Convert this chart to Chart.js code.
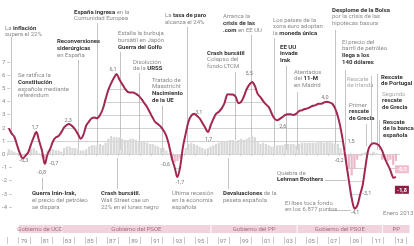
<!DOCTYPE html>
<html>
<head>
<meta charset="utf-8">
<script src="https://cdn.jsdelivr.net/npm/chart.js@4.4.1/dist/chart.umd.min.js"></script>
<style>
  html, body { margin: 0; padding: 0; background: #fff; }
  #wrap { width: 414px; height: 246px; position: relative; }
</style>
</head>
<body>
<div id="wrap"><canvas id="pib"></canvas></div>
<script>
// PIB de España, % de variación. Trimestral desde 1978 T1 hasta 2013 T1
const firstYear = 1978;

// variación interanual (línea)
const yoy = [
  2.0, 1.6, 1.35, 0.7, 0.1, -0.3, -0.1, 0.15, 0.75, 1.3,
  1.7, 1.0, 0.3, -0.7, 0.0, 0.45, 1.0, 1.3, 1.4, 1.7,
  2.05, 2.25, 2.3, 2.15, 1.9, 1.55, 1.2, 1.5, 2.2, 2.5,
  2.75, 2.8, 2.75, 3.0, 3.45, 4.2, 4.9, 5.4, 5.8, 6.1,
  5.7, 5.35, 5.0, 4.75, 4.7, 4.7, 4.6, 4.45, 4.2, 3.9,
  3.6, 3.2, 2.8, 2.45, 2.3, 2.1, 1.8, 1.4, 0.65, -0.3,
  -1.0, -1.7, -0.9, 0.6, 1.6, 2.5, 2.95, 3.1, 2.95, 2.75,
  2.4, 2.05, 1.7, 2.2, 2.7, 3.1, 3.25, 3.5, 3.9, 4.55,
  4.55, 4.55, 4.4, 3.9, 4.0, 4.4, 4.95, 5.3, 5.5, 5.2,
  4.6, 4.35, 4.05, 3.8, 3.6, 3.15, 2.75, 2.6, 2.7, 2.85,
  3.0, 3.05, 3.05, 3.0, 3.1, 3.3, 3.35, 3.45, 3.5, 3.6,
  3.7, 3.75, 3.85, 3.85, 3.95, 4.0, 3.95, 3.85, 3.5, 2.9,
  2.0, 0.8, -0.6, -2.0, -3.3, -4.1, -3.9, -3.1, -2.3, -0.9,
  0.35, 0.75, 0.85, 0.8, 0.65, 0.3, -0.3, -0.75, -1.2, -1.75, -1.7
];

// variación trimestral (barras)
const qoq = [
  0.4, 0.3, 0.2, 0.1,   0.0, -0.1, 0.1, 0.2,   0.4, 0.5, 0.3, 0.1,
  -0.2, -0.3, 0.3, 0.4, 0.4, 0.3, 0.3, 0.2,    0.5, 0.6, 0.6, 0.5,
  0.5, 0.4, 0.3, 0.3,   0.4, 0.6, 0.7, 0.7,    0.7, 0.8, 0.7, 0.9,
  1.2, 1.4, 1.3, 1.3,   1.3, 1.2, 1.1, 1.1,    1.2, 1.2, 1.1, 1.0,
  1.0, 1.0, 0.9, 0.8,   0.8, 0.7, 0.6, 0.5,    0.5, 0.3, 0.1, -0.4,
  -0.6, -0.5, -0.3, 0.0, 0.5, 0.8, 0.9, 0.8,   0.7, 0.6, 0.5, 0.4,
  0.5, 0.6, 0.7, 0.8,   0.9, 1.0, 1.0, 1.0,    1.1, 1.1, 1.0, 1.1,
  1.2, 1.1, 1.2, 1.3,   1.4, 1.3, 1.0, 0.8,    0.9, 0.8, 0.7, 0.6,
  0.6, 0.7, 0.7, 0.7,   0.8, 0.8, 0.8, 0.8,    0.7, 0.8, 0.9, 0.9,
  0.9, 0.9, 0.9, 0.9,   1.0, 1.0, 0.9, 1.0,    1.0, 0.9, 0.8, 0.8,
  0.5, 0.1, -0.6, -1.1, -1.6, -1.1, -0.4, -0.1, 0.1, 0.2, 0.0, 0.1,
  0.2, 0.1, 0.0, -0.4,  -0.4, -0.5, -0.4, -0.8, -0.5
];

const yTicks = [-4, -3, -2, -1, 0, 1, 2, 3, 4, 5, 6, 7];
const yearTicks = [];
for (let yr = 1978; yr <= 2014; yr++) yearTicks.push(yr);
const yearLabels = ['79','81','83','85','87','89','91','93','95','97','99','01','03','05','07','09','11','13'];
const labelYears = [1979,1981,1983,1985,1987,1989,1991,1993,1995,1997,1999,2001,2003,2005,2007,2009,2011,2013];

const govNames = ['Gobierno de UCD', 'Gobierno del PSOE', 'Gobierno del PP', 'Gobierno del PSOE', 'PP'];
const govStart = [1979.0, 1982.92, 1996.4, 2004.2, 2011.9];
const govEnd   = [1982.92, 1996.4, 2004.2, 2011.9, 2014.4];

// cifras rotuladas junto a la curva: texto, año, altura del rótulo
const valueLabels = [
  ['-0,3', 1979.5, -0.5], ['1,7', 1980.5, 2.05], ['-0,8', 1981.1, -1.4], ['-0,7', 1982.2, -0.72],
  ['2,3', 1983.5, 2.6], ['6,1', 1987.55, 6.45], ['-0,6', 1992.3, -0.8], ['-1,7', 1993.6, -2.1],
  ['3,1', 1995.3, 3.2], ['1,7', 1996.2, 1.15], ['5,5', 1999.85, 6.1], ['2,6', 2002.9, 2.1],
  ['4,0', 2006.7, 4.3], ['-0,2', 2008.0, -0.5], ['1,5', 2009.07, 1.0], ['-3,1', 2010.5, -2.95],
  ['-4,1', 2009.43, -4.4]
];

const quarterT = yoy.map((_, i) => firstYear + i / 4 + 0.125);
const lineData = yoy.map((v, i) => ({ x: quarterT[i], y: v }));
const barData = qoq.map((v, i) => ({ x: quarterT[i], y: v }));

// anotaciones (texto con *negrita*), en píxeles
const notes = [
  { x: 5, y: 28, lines: ['La *inflación*', 'supera el 22%'], lead: [1978.3, 37, 133] },
  { x: 18, y: 75.5, lines: ['Se ratifica la', '*Constitución*', 'española mediante', 'referéndum'] },
  { x: 57, y: 41.5, lines: ['*Reconversiones*', '*siderúrgicas*', 'en España'], lead: [1984.4, 60, 152] },
  { x: 74, y: 12, lines: ['*España ingresa* en la', 'Comunidad Europea'], lead: [1986.1, 23, 153] },
  { x: 118, y: 33.5, lines: ['Estalla la burbuja', 'bursátil en Japón', '*Guerra del Golfo*'], lead: [1988.2, 52, 150] },
  { x: 133, y: 62, lines: ['Disolución', 'de la *URSS*'], lead: [1989.9, 73, 150] },
  { x: 152, y: 80, lines: ['Tratado de', 'Maastricht', '*Nacimiento*', '*de la UE*'], lead: [1992.0, 106, 152] },
  { x: 32, y: 193.5, lines: ['*Guerra Irán-Irak,*', 'el precio del petróleo', 'se dispara'], lead: [1981.1, 178, 190] },
  { x: 101, y: 193.5, lines: ['*Crash bursátil.*', 'Wall Street cae un', '22% en el lunes negro'], lead: [1987.9, 158, 189] },
  { x: 172, y: 193.5, lines: ['Última recesión', 'en la economía', 'española'] },
  { x: 165, y: 15.5, lines: ['La *tasa de paro*', 'alcanza el 24%'], lead: [1994.2, 27, 150] },
  { x: 223, y: 193.5, lines: ['*Devaluaciones* de la', 'peseta española'], lead: [1997.9, 158, 189] },
  { x: 207, y: 53, lines: ['*Crash bursátil*', 'Colapso del', 'fondo LTCM'], lead: [1998.6, 72, 140] },
  { x: 223, y: 16.5, lines: ['Arranca la', '*crisis de las*', '*.com* en EE UU'], lead: [2000.0, 35, 150] },
  { x: 273, y: 20, lines: ['Los países de la', 'zona euro adoptan', 'la *moneda única*'], lead: [2002.1, 38, 150] },
  { x: 280, y: 47, lines: ['*EE UU*', '*invade*', '*Irak*'], lead: [2003.2, 66, 150] },
  { x: 294, y: 72, lines: ['Atentados', 'del *11-M*', 'en Madrid'], lead: [2004.2, 92, 150] },
  { x: 332, y: 10, lines: ['*Desplome de la Bolsa*', 'por la crisis de las', 'hipotecas basura'], lead: [2007.6, 30, 150] },
  { x: 342, y: 42, lines: ['El precio del', 'barril de petróleo', '*llega a los*', '*140 dólares*'], lead: [2008.5, 70, 150] },
  { x: 347, y: 79, lines: ['Rescate', 'de Irlanda'], faint: true, lead: [2010.9, 76, 143] },
  { x: 349, y: 105, lines: ['Primer', '*rescate*', '*de Grecia*'], lead: [2010.4, 124, 146] },
  { x: 381, y: 77, lines: ['*Rescate*', '*de Portugal*'], lead: [2011.4, 74, 150] },
  { x: 382, y: 94, lines: ['Segundo', '*rescate*', '*de Grecia*'], faintFirst: true },
  { x: 383, y: 122, lines: ['*Rescate*', '*de la banca*', '*española*'], lead: [2011.6, 120, 150] },
  { x: 277, y: 173, lines: ['Quiebra de', '*Lehman Brothers*'], hlead: [325, 347, 180] },
  { x: 285, y: 203, lines: ['El Ibex toca fondo', 'en los 6.877 puntos'], hlead: [329, 351, 210] },
  { x: 383, y: 213, lines: ['Enero 2013'] }
];

const FONT = 'Roboto, "Liberation Sans", sans-serif';
const RED = '#a1284f';

function richLine(ctx, str, x, y, faint) {
  let cx = x;
  str.split('*').forEach((s, k) => {
    if (!s) return;
    const bold = k % 2 === 1;
    ctx.font = (bold ? '700 ' : '400 ') + '6px ' + FONT;
    ctx.fillStyle = faint ? '#aaaaaa' : (bold ? '#333333' : '#8a8a8a');
    ctx.fillText(s, cx, y);
    cx += ctx.measureText(s).width;
  });
}

const deco = {
  id: 'deco',
  beforeDatasetsDraw(chart) {
    const { ctx, chartArea, scales: { x, y } } = chart;
    const pts = chart.getDatasetMeta(0).data;
    const y0 = y.getPixelForValue(0);

    // rejilla sólo entre la curva y el cero
    ctx.save();
    ctx.beginPath();
    ctx.moveTo(pts[0].x, y0);
    pts.forEach(p => ctx.lineTo(p.x, p.y));
    ctx.lineTo(pts[pts.length - 1].x, y0);
    ctx.closePath();
    ctx.clip();
    ctx.strokeStyle = '#d2d2d2';
    ctx.lineWidth = 1;
    yTicks.filter(v => v !== 0).forEach(v => {
      const py = Math.round(y.getPixelForValue(v)) + 0.5;
      ctx.beginPath();
      ctx.moveTo(chartArea.left, py);
      ctx.lineTo(chartArea.right, py);
      ctx.stroke();
    });
    ctx.restore();

    // líneas guía
    ctx.save();
    ctx.strokeStyle = '#b5b5b5';
    ctx.lineWidth = 0.8;
    notes.forEach(n => {
      if (n.lead) {
        const px = Math.round(x.getPixelForValue(n.lead[0])) + 0.5;
        ctx.beginPath();
        ctx.moveTo(px, n.lead[1]);
        ctx.lineTo(px, n.lead[2]);
        ctx.stroke();
      }
      if (n.hlead) {
        ctx.beginPath();
        ctx.moveTo(n.hlead[0], n.hlead[2] + 0.5);
        ctx.lineTo(n.hlead[1], n.hlead[2] + 0.5);
        ctx.stroke();
      }
    });

    // eje cero con marcas anuales
    const zy = Math.round(y0) + 0.5;
    ctx.strokeStyle = '#c8c8c8';
    ctx.beginPath();
    ctx.moveTo(x.getPixelForValue(1978), zy);
    ctx.lineTo(x.getPixelForValue(2013.5), zy);
    ctx.stroke();
    yearTicks.forEach(yr => {
      if (yr > 2013) return;
      const px = Math.round(x.getPixelForValue(yr)) + 0.5;
      ctx.beginPath();
      ctx.moveTo(px, zy - 1.5);
      ctx.lineTo(px, zy + 1.5);
      ctx.stroke();
    });
    ctx.restore();
  },
  afterDatasetsDraw(chart) {
    const { ctx, scales: { x, y } } = chart;
    ctx.save();
    ctx.textBaseline = 'middle';
    ctx.textAlign = 'left';

    notes.forEach(n => {
      n.lines.forEach((l, k) => richLine(ctx, l, n.x, n.y + k * 6.8, n.faint || (n.faintFirst && k === 0)));
    });

    ctx.textAlign = 'center';
    ctx.font = '400 5.5px ' + FONT;
    ctx.fillStyle = '#777';
    valueLabels.forEach(([t, yr, v]) => {
      ctx.fillText(t, x.getPixelForValue(yr), y.getPixelForValue(v));
    });

    // último dato
    const last = yoy.length - 1;
    const boxes = [
      [String(qoq[last]).replace('.', ','), -1.12, '#eebccd'],
      [String(-1.8).replace('.', ','), -2.68, '#8c1d45']
    ];
    boxes.forEach(([t, v, c]) => {
      const cx = x.getPixelForValue(quarterT[last]) + 6;
      const cy = y.getPixelForValue(v);
      ctx.fillStyle = c;
      ctx.fillRect(cx - 7, cy - 4, 14, 8);
      ctx.fillStyle = '#fff';
      ctx.font = '700 5.5px ' + FONT;
      ctx.fillText(t, cx, cy + 0.5);
    });

    // franjas de gobierno
    ctx.font = '400 6px ' + FONT;
    govNames.forEach((g, i) => {
      const a = x.getPixelForValue(govStart[i]) + 0.5;
      const b = x.getPixelForValue(govEnd[i]) - 0.5;
      ctx.fillStyle = '#f1d3de';
      ctx.fillRect(a, 225, b - a, 8);
      ctx.fillStyle = '#a86c84';
      ctx.fillText(g, (a + b) / 2, 229.5);
    });

    // años
    ctx.strokeStyle = '#bdbdbd';
    ctx.lineWidth = 0.8;
    yearTicks.forEach(yr => {
      const px = Math.round(x.getPixelForValue(yr)) + 0.5;
      ctx.beginPath();
      ctx.moveTo(px, 237);
      ctx.lineTo(px, 244);
      ctx.stroke();
    });
    ctx.fillStyle = '#8a8a8a';
    ctx.font = '400 6px ' + FONT;
    yearLabels.forEach((l, i) => {
      ctx.fillText(l, x.getPixelForValue(labelYears[i] + 0.5), 241);
    });
    ctx.restore();
  }
};

new Chart(document.getElementById('pib'), {
  type: 'bar',
  data: {
    datasets: [
      {
        type: 'line',
        data: lineData,
        borderColor: RED,
        borderWidth: 2,
        pointRadius: 0,
        tension: 0.35,
        fill: false,
        order: 0
      },
      {
        type: 'bar',
        data: barData,
        backgroundColor: qoq.map(v => v < 0 ? '#ecb8ca' : '#d8d8d8'),
        barPercentage: 0.8,
        categoryPercentage: 1,
        order: 1
      }
    ]
  },
  options: {
    responsive: true,
    maintainAspectRatio: false,
    devicePixelRatio: 1,
    animation: false,
    layout: { padding: 0 },
    plugins: { legend: { display: false }, tooltip: { enabled: false } },
    scales: {
      x: { type: 'linear', min: 1977.33, max: 2014.76, offset: false, display: false },
      y: {
        min: -6.52,
        max: 11.3,
        position: 'left',
        grid: { display: false, drawTicks: false },
        border: { display: false },
        afterBuildTicks: s => { s.ticks = yTicks.map(v => ({ value: v })); },
        afterFit: s => { s.width = 0; },
        ticks: {
          mirror: true,
          padding: 2,
          color: '#8a8a8a',
          font: { size: 6, family: FONT },
          callback: v => v + ' –'
        }
      }
    }
  },
  plugins: [deco]
});
</script>
</body>
</html>
